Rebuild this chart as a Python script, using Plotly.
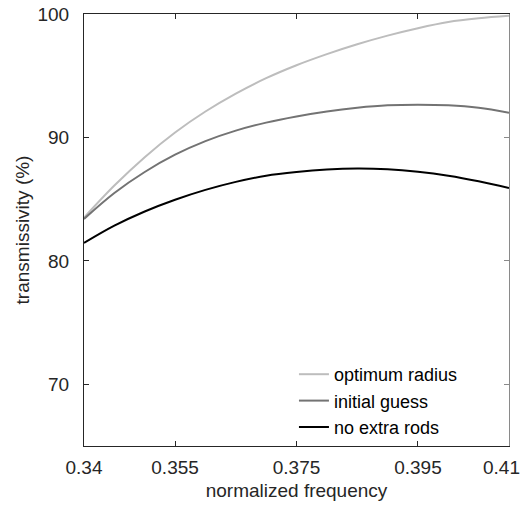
import plotly.graph_objects as go

freq = [0.340, 0.345, 0.350, 0.355, 0.360, 0.365, 0.370, 0.375, 0.380, 0.385, 0.390, 0.395, 0.400, 0.405, 0.410]
optimum_radius = [83.5, 86.1, 88.4, 90.4, 92.1, 93.55, 94.8, 95.85, 96.75, 97.55, 98.25, 98.85, 99.35, 99.65, 99.85]
initial_guess = [83.4, 85.5, 87.2, 88.6, 89.7, 90.55, 91.2, 91.7, 92.1, 92.4, 92.6, 92.65, 92.6, 92.4, 92.0]
no_extra_rods = [81.45, 82.85, 84.0, 84.95, 85.75, 86.4, 86.9, 87.2, 87.4, 87.48, 87.42, 87.22, 86.9, 86.45, 85.9]

x_ticks = [0.34, 0.355, 0.375, 0.395, 0.41]
x_ticktext = ["0.34", "0.355", "0.375", "0.395", "0.41"]
y_ticks = [70, 80, 90, 100]

font_family = "Liberation Sans, Arial, sans-serif"
FS = 19

fig = go.Figure()
series = [
    ("optimum radius", optimum_radius, "#bdbdbd"),
    ("initial guess", initial_guess, "#737373"),
    ("no extra rods", no_extra_rods, "#000000"),
]
for name, vals, col in series:
    fig.add_trace(go.Scatter(x=freq, y=vals, name=name, mode="lines",
                             line=dict(color=col, width=2, shape="spline")))

# invisible trace for right-side axis
fig.add_trace(go.Scatter(x=[freq[0]], y=[optimum_radius[0]], yaxis="y2",
                         mode="lines", showlegend=False, hoverinfo="skip",
                         line=dict(color="rgba(0,0,0,0)")))

# last tick label drawn as annotation, nudged left so it stays inside the page
shown_text = x_ticktext[:-1] + [""]
fig.add_annotation(x=x_ticks[-1], xref="x", y=0, yref="paper", yanchor="top",
                   xanchor="right", xshift=13, yshift=-9, text=x_ticktext[-1],
                   showarrow=False, font=dict(size=FS, color="#262626"))

fig.update_layout(
    width=524, height=508,
    margin=dict(l=84, r=15, t=14, b=62, autoexpand=False),
    paper_bgcolor="white", plot_bgcolor="white",
    font=dict(family=font_family, size=FS, color="#262626"),
    showlegend=True,
    legend=dict(x=0.494, y=0.0, xanchor="left", yanchor="bottom",
                bgcolor="rgba(0,0,0,0)", font=dict(size=18, color="#000"),
                tracegroupgap=0, itemwidth=30),
    xaxis=dict(range=[0.34, 0.41 + 1e-7], tickvals=x_ticks, ticktext=shown_text,
               ticks="inside", ticklen=5, tickcolor="#262626",
               showline=True, linecolor="#262626", linewidth=1, mirror="ticks",
               showgrid=False, zeroline=False, ticklabelstandoff=4,
               title=dict(text="normalized frequency", font=dict(size=FS), standoff=6)),
    yaxis=dict(range=[65, 100], tickvals=y_ticks,
               ticks="inside", ticklen=5, tickcolor="#262626",
               showline=True, linecolor="#262626", linewidth=1,
               showgrid=False, zeroline=False, ticklabelstandoff=10,
               ticklabeloverflow="allow",
               title=dict(text="transmissivity (%)", font=dict(size=FS), standoff=2)),
    yaxis2=dict(range=[65, 100], tickvals=y_ticks, overlaying="y", side="right",
                ticks="inside", ticklen=5, tickcolor="#8a8a8a",
                showline=True, linecolor="#8a8a8a", linewidth=1,
                showticklabels=False, showgrid=False, zeroline=False),
)

fig.write_html("out.html")
